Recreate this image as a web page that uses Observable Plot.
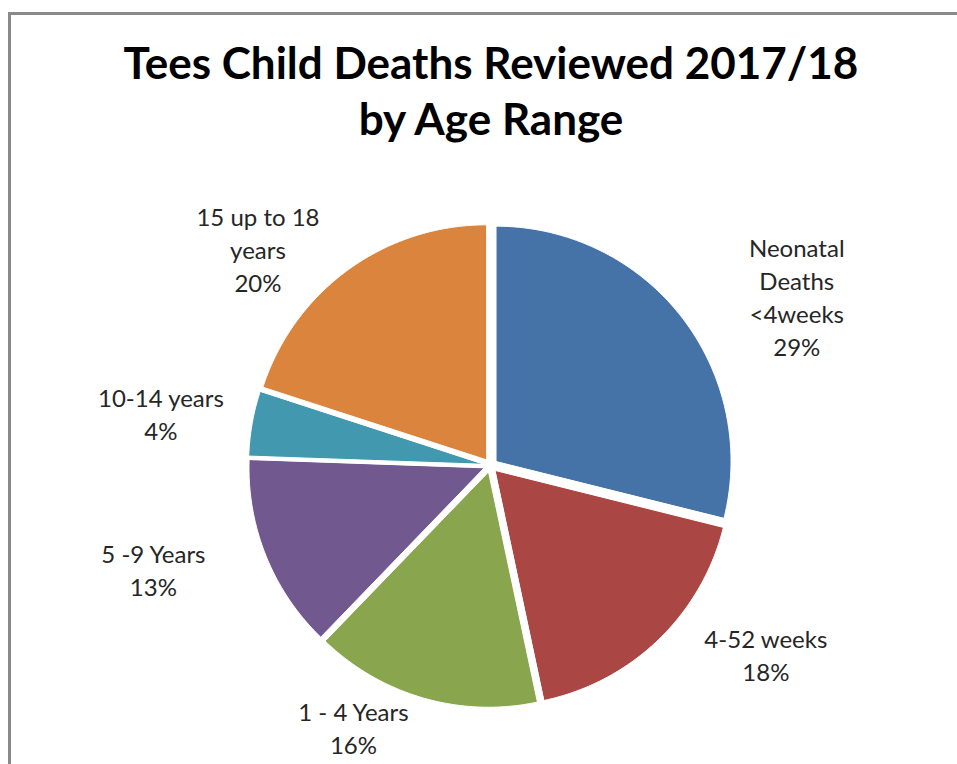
<!DOCTYPE html>
<html><head><meta charset="utf-8">
<script src="https://cdn.jsdelivr.net/npm/d3@7"></script>
<script src="https://cdn.jsdelivr.net/npm/@observablehq/plot@0.6"></script>
<style>
html,body{margin:0;padding:0;background:#fff;overflow:hidden;}
#page{position:relative;width:957px;height:764px;overflow:hidden;font-family:Lato,"Open Sans",sans-serif;}
#frame{position:absolute;left:8px;top:12px;width:2000px;height:2000px;border-left:3px solid #8a8a8a;border-top:3px solid #8a8a8a;}
#title{position:absolute;left:0;top:0;width:982px;height:160px;text-align:center;font-weight:700;font-size:44px;line-height:56px;padding-top:34px;box-sizing:border-box;color:#000;}
#chart{position:absolute;left:0;top:160px;width:957px;}
</style></head><body>
<div id="page">
<div id="frame"></div>
<div id="title">Tees Child Deaths Reviewed 2017/18<br>by Age Range</div>
<div id="chart"></div>
</div>
<script>
// Data
const categories = ["Neonatal Deaths <4weeks", "4-52 weeks", "1 - 4 Years", "5 -9 Years", "10-14 years", "15 up to 18 years"];
const labelText = ["Neonatal\nDeaths\n<4weeks", "4-52 weeks", "1 - 4 Years", "5 -9 Years", "10-14 years", "15 up to 18\nyears"];
const counts = [13, 8, 7, 6, 2, 9];
const colors = ["#4572A7", "#AA4643", "#89A54E", "#71588F", "#4198AF", "#DB843D"];

// Layout
const labelAngleDeg = [61, 124.4, 207.7, 253, 279, 313];
const labelDist = [1.49, 1.42, 1.255, 1.50, 1.42, 1.353];

const W = 957, H = 604, cx = 490, cy = 305, R = 235, explode = 7 / 235;
const total = d3.sum(counts);
const arcs = d3.pie().sort(null).value(d => d)(counts);
const pts = [];
arcs.forEach((a, i) => {
  const cat = categories[i];
  const mid = (a.startAngle + a.endAngle) / 2;
  const ox = explode * Math.sin(mid), oy = explode * Math.cos(mid);
  pts.push({cat, x: ox, y: oy});
  const n = Math.max(2, Math.ceil((a.endAngle - a.startAngle) / 0.01));
  for (let k = 0; k <= n; k++) {
    const t = a.startAngle + (a.endAngle - a.startAngle) * k / n;
    pts.push({cat, x: ox + Math.sin(t), y: oy + Math.cos(t)});
  }
});
const fmt = d3.format(".0%");
const labels = categories.map((c, i) => {
  const a = labelAngleDeg[i] * Math.PI / 180;
  return {cat: c, text: labelText[i] + "\n" + fmt(counts[i] / total), x: labelDist[i] * Math.sin(a), y: labelDist[i] * Math.cos(a)};
});

const chart = Plot.plot({
  width: W, height: H, margin: 0,
  style: {background: "transparent", fontFamily: "Lato, 'Open Sans', sans-serif", overflow: "hidden"},
  x: {domain: [-cx / R, (W - cx) / R], range: [0, W], axis: null},
  y: {domain: [-(H - cy) / R, cy / R], range: [H, 0], axis: null},
  color: {domain: categories, range: colors},
  marks: [
    Plot.line(pts, {x: "x", y: "y", z: "cat", fill: "cat", stroke: "white", strokeWidth: 1, curve: "linear-closed"}),
    Plot.text(labels, {x: "x", y: "y", text: "text", fontSize: 24, lineHeight: 1.38, fill: "#262626", lineAnchor: "middle", textAnchor: "middle"})
  ]
});
document.getElementById("chart").appendChild(chart);
</script>
</body></html>
